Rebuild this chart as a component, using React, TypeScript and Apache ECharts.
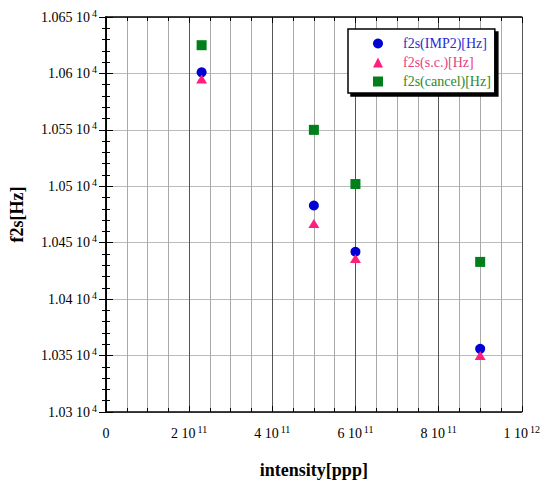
import React, { useEffect, useRef } from "react";
import * as echarts from "echarts";

const intensity = [2.3e11, 5e11, 6e11, 9e11];
const f2sImp2 = [10601, 10483, 10442, 10356];
const f2sSc = [10595, 10467, 10436, 10350];
const f2sCancel = [10625, 10550, 10502, 10433];

const seriesNames = ["f2s(IMP2)[Hz]", "f2s(s.c.)[Hz]", "f2s(cancel)[Hz]"];
const markerColors = ["#0000d4", "#ff1f7c", "#007f1a"];
const textColors = ["#2a2ad0", "#e8407c", "#2a8a2a"];
const symbols = ["circle", "triangle", "rect"];

const FONT = "Liberation Serif";

function sci(v: number): string {
  if (v === 0) return "{a|0}";
  const e = Math.floor(Math.log10(Math.abs(v)) + 1e-9);
  const m = v / Math.pow(10, e);
  const ms = parseFloat(m.toFixed(4)).toString();
  return `{a|${ms} 10}{b|${e}}`;
}

const rich = {
  a: { fontSize: 14, fontFamily: FONT, color: "#000", lineHeight: 18 },
  b: { fontSize: 10, fontFamily: FONT, color: "#000", lineHeight: 10, verticalAlign: "top", padding: [0, 0, 0, 2] },
};

export default function App() {
  const ref = useRef<HTMLDivElement>(null);
  useEffect(() => {
    if (!ref.current) return;
    const chart = echarts.init(ref.current, undefined, { renderer: "svg" });
    const axisLine = { show: true, lineStyle: { color: "#000", width: 1.5 } };
    const xBase = {
      type: "value" as const,
      min: 0,
      max: 1e12,
      interval: 2e11,
      axisLine,
      axisTick: { show: true, inside: true, length: 6, lineStyle: { color: "#000" } },
      minorTick: { show: true, splitNumber: 4, length: 4, lineStyle: { color: "#000" } },
    };
    const yBase = {
      type: "value" as const,
      min: 10300,
      max: 10650,
      interval: 50,
      axisLine,
      axisTick: { show: true, inside: true, length: 7, lineStyle: { color: "#000" } },
      minorTick: { show: true, splitNumber: 5, length: 4, lineStyle: { color: "#000" } },
    };
    chart.setOption({
      animation: false,
      backgroundColor: "#fff",
      grid: { left: 106, right: 20, top: 17, bottom: 73, containLabel: false },
      xAxis: [
        {
          ...xBase,
          position: "bottom",
          name: "intensity[ppp]",
          nameLocation: "middle",
          nameGap: 49,
          nameTextStyle: { fontFamily: FONT, fontSize: 18, fontWeight: "bold", color: "#000" },
          axisLabel: { margin: 12, fontFamily: FONT, fontSize: 14, formatter: (v: number) => sci(v), rich },
          splitLine: { show: true, lineStyle: { color: "#555", width: 1 } },
          minorSplitLine: { show: true, lineStyle: { color: "#aaa", width: 1 } },
        },
        {
          ...xBase,
          position: "top",
          axisLabel: { show: false },
          splitLine: { show: false },
        },
      ],
      yAxis: [
        {
          ...yBase,
          position: "left",
          name: "f2s[Hz]",
          nameLocation: "middle",
          nameGap: 80,
          nameRotate: 90,
          nameTextStyle: { fontFamily: FONT, fontSize: 18, fontWeight: "bold", color: "#000" },
          axisLabel: { margin: 9, fontFamily: FONT, fontSize: 14, formatter: (v: number) => sci(v), rich },
          splitLine: { show: true, lineStyle: { color: "#bbb", width: 1.2 } },
        },
        {
          ...yBase,
          position: "right",
          axisLabel: { show: false },
          splitLine: { show: false },
        },
      ],
      legend: {
        show: true,
        orient: "vertical",
        left: 348,
        top: 29,
        padding: [7, 4, 4, 25],
        itemGap: 4,
        itemWidth: 10,
        itemHeight: 10,
        backgroundColor: "#fff",
        borderColor: "#000",
        borderWidth: 1.5,
        shadowColor: "#000",
        shadowOffsetX: 3,
        shadowOffsetY: 3,
        shadowBlur: 0,
        textStyle: { fontFamily: FONT, fontSize: 14, lineHeight: 15, padding: [0, 0, 0, 15] },
        data: seriesNames.map((n, i) => ({ name: n, icon: symbols[i], textStyle: { color: textColors[i] } })),
      },
      series: [f2sImp2, f2sSc, f2sCancel].map((vals, i) => ({
        name: seriesNames[i],
        type: "scatter",
        xAxisIndex: 0,
        yAxisIndex: 0,
        symbol: symbols[i],
        symbolSize: i === 1 ? [11, 9] : 10,
        itemStyle: { color: markerColors[i], opacity: 1 },
        data: intensity.map((x, j) => [x, vals[j]]),
      })),
    });
    return () => chart.dispose();
  }, []);
  return (
    <div
      ref={ref}
      style={{ position: "fixed", left: 0, top: 0, width: 543, height: 485 }}
    />
  );
}
